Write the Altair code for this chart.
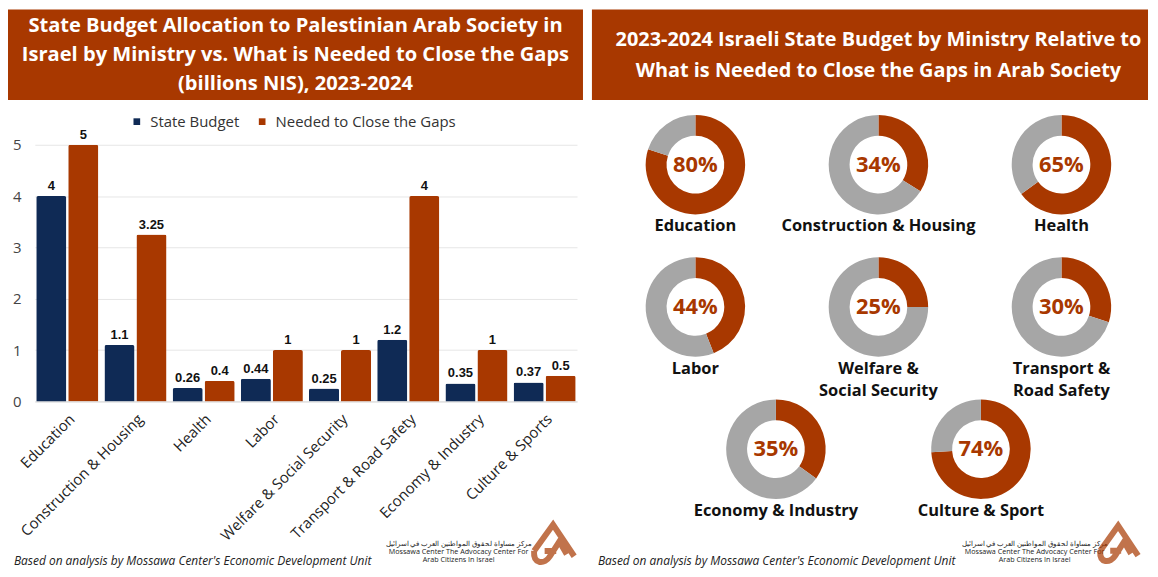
import math
import altair as alt
import pandas as pd

# ---------------- data ----------------
categories = ["Education", "Construction & Housing", "Health", "Labor",
              "Welfare & Social Security", "Transport & Road Safety",
              "Economy & Industry", "Culture & Sports"]
state_budget = [4, 1.1, 0.26, 0.44, 0.25, 1.2, 0.35, 0.37]
needed = [5, 3.25, 0.4, 1, 1, 4, 1, 0.5]
series_names = ["State Budget", "Needed to Close the Gaps"]
y_ticks = [0, 1, 2, 3, 4, 5]

donut_names = ["Education", "Construction & Housing", "Health", "Labor",
               "Welfare &\nSocial Security", "Transport &\nRoad Safety",
               "Economy & Industry", "Culture & Sport"]
donut_pct = [80, 34, 65, 44, 25, 30, 35, 74]

left_title = ("State Budget Allocation to Palestinian Arab Society in\n"
              "Israel by Ministry vs. What is Needed to Close the Gaps\n"
              "(billions NIS), 2023-2024")
right_title = ("2023-2024 Israeli State Budget by Ministry Relative to\n"
               "What is Needed to Close the Gaps in Arab Society")
footer = "Based on analysis by Mossawa Center's Economic Development Unit"
logo_text = ("مركز مساواة لحقوق المواطنين العرب في اسرائيل\n"
             "Mossawa Center The Advocacy Center For\n"
             "Arab Citizens In Israel")

# ---------------- layout (grid slots of the donuts) ----------------
donut_col = [0, 1, 2, 0, 1, 2, 0.44, 1.56]
donut_row = [0, 0, 0, 1, 1, 1, 2, 2]

# ---------------- styles ----------------
RED = "#A83800"
NAVY = "#0F2A55"
GRAY = "#A6A6A6"
FONT = "Open Sans"
LOGO_PATH = ("M-0.95,0.3 L-0.05,-0.95 L0.95,0.55 "
             "M-0.95,0.3 C-1,0.95 -0.45,0.95 -0.2,0.55 L0.25,-0.15 L0.6,0.45 "
             "M-0.45,0.3 L0.1,0.3")

one = pd.DataFrame({"k": [0]})

# ---------------- left panel: grouped bars ----------------
W1, H1 = 545, 258
bars_df = pd.DataFrame({
    "category": categories * 2,
    "series": [series_names[0]] * len(categories) + [series_names[1]] * len(categories),
    "value": state_budget + needed,
})

x_enc = alt.X("category:N", sort=categories, title=None,
              scale=alt.Scale(paddingInner=0.09, paddingOuter=0.02),
              axis=alt.Axis(labelAngle=-45, labelFontSize=15, labelFont=FONT,
                            labelColor="#222", ticks=False, domainColor="#d9d9d9",
                            labelPadding=10, labelLimit=400))
xo_enc = alt.XOffset("series:N", sort=series_names, scale=alt.Scale(paddingInner=0.06))
y_enc = alt.Y("value:Q", title=None, scale=alt.Scale(domain=[0, 5], nice=False),
              axis=alt.Axis(values=y_ticks, format="d", labelFontSize=15, labelFont=FONT,
                            labelColor="#444", ticks=False, domain=False,
                            gridColor="#e6e6e6", labelPadding=14))
color_enc = alt.Color("series:N", sort=series_names,
                      scale=alt.Scale(domain=series_names, range=[NAVY, RED]),
                      legend=alt.Legend(orient="none", legendX=95, legendY=-31,
                                        direction="horizontal", title=None,
                                        symbolType="square", symbolSize=45,
                                        symbolStrokeWidth=0, labelFontSize=15,
                                        labelFont=FONT, labelColor="#333",
                                        labelLimit=400,
                                        columnPadding=15, labelOffset=6, padding=0))

bars = alt.Chart(bars_df).mark_bar(cornerRadiusTopLeft=2, cornerRadiusTopRight=2).encode(
    x=x_enc, xOffset=xo_enc, y=y_enc, color=color_enc)
bar_labels = alt.Chart(bars_df).mark_text(
    baseline="bottom", dy=-3, fontSize=13, fontWeight="bold",
    font="Liberation Sans", color="#111").encode(
    x=x_enc, xOffset=xo_enc, y=y_enc, text=alt.Text("value:Q", format="~g"))

banner_l = alt.Chart(one).mark_rect(color=RED).encode(
    x=alt.value(-27), x2=alt.value(551), y=alt.value(-136), y2=alt.value(-45))
title_l = alt.Chart(one).mark_text(
    lineBreak="\n", align="center", baseline="middle", fontSize=20.2,
    fontWeight="bold", font=FONT, color="white", lineHeight=29).encode(
    x=alt.value(262), y=alt.value(-119), text=alt.value(left_title))
footer_l = alt.Chart(one).mark_text(
    align="left", baseline="middle", fontSize=12, fontStyle="italic",
    font=FONT, color="#222").encode(
    x=alt.value(-21), y=alt.value(418), text=alt.value(footer))
logo_txt_l = alt.Chart(one).mark_text(
    lineBreak="\n", align="center", baseline="middle", fontSize=7.2,
    font=FONT, color="#222", lineHeight=8).encode(
    x=alt.value(426), y=alt.value(401), text=alt.value(logo_text))
logo_l = alt.Chart(one).mark_point(
    shape=LOGO_PATH, size=1800, filled=False, strokeWidth=6, color=RED).encode(
    x=alt.value(522), y=alt.value(402))

left = alt.layer(banner_l, title_l, bars, bar_labels, footer_l, logo_txt_l, logo_l).properties(
    width=W1, height=H1)

# ---------------- right panel: donuts ----------------
W2, H2 = 559, 425
COL0, COL_STEP, ROW0, ROW_STEP = 104, 184, 20, 143
xdom = [(0 - COL0) / COL_STEP, (W2 - COL0) / COL_STEP]
ydom = [(0 - ROW0) / ROW_STEP, (H2 - ROW0) / ROW_STEP]
xs = alt.X("col:Q", axis=None, scale=alt.Scale(domain=xdom, nice=False, zero=False))
ys = alt.Y("row:Q", axis=None, scale=alt.Scale(domain=ydom, nice=False, zero=False, reverse=True))

arc_rows = []
for name, p, c, r in zip(donut_names, donut_pct, donut_col, donut_row):
    arc_rows.append({"name": name, "col": c, "row": r, "seg": "need", "t0": 0.0, "t1": p / 100})
    arc_rows.append({"name": name, "col": c, "row": r, "seg": "rest", "t0": p / 100, "t1": 1.0})
arc_df = pd.DataFrame(arc_rows)
lab_df = pd.DataFrame({"name": donut_names, "col": donut_col, "row": donut_row,
                       "pct": [f"{p}%" for p in donut_pct]})

arcs = alt.Chart(arc_df).mark_arc(radius=50, radius2=29).encode(
    x=xs, y=ys,
    theta=alt.Theta("t0:Q", stack=False,
                    scale=alt.Scale(domain=[0, 1], range=[0, 2 * math.pi])),
    theta2="t1:Q",
    color=alt.Color("seg:N", scale=alt.Scale(domain=["need", "rest"], range=[RED, GRAY]),
                    legend=None))
pct_text = alt.Chart(lab_df).mark_text(
    fontSize=22, fontWeight="bold", font=FONT, color=RED, baseline="middle").encode(
    x=xs, y=ys, text="pct:N")
name_text = alt.Chart(lab_df).mark_text(
    fontSize=16.5, fontWeight="bold", font=FONT, color="#111", baseline="top",
    dy=54, lineBreak="\n", lineHeight=23).encode(
    x=xs, y=ys, text="name:N")

banner_r = alt.Chart(one).mark_rect(color=RED).encode(
    x=alt.value(0), x2=alt.value(W2), y=alt.value(-136), y2=alt.value(-45))
title_r = alt.Chart(one).mark_text(
    lineBreak="\n", align="center", baseline="middle", fontSize=20,
    fontWeight="bold", font=FONT, color="white", lineHeight=31).encode(
    x=alt.value(288), y=alt.value(-105), text=alt.value(right_title))
footer_r = alt.Chart(one).mark_text(
    align="left", baseline="middle", fontSize=12, fontStyle="italic",
    font=FONT, color="#222").encode(
    x=alt.value(6), y=alt.value(418), text=alt.value(footer))
logo_txt_r = alt.Chart(one).mark_text(
    lineBreak="\n", align="center", baseline="middle", fontSize=7.2,
    font=FONT, color="#222", lineHeight=8).encode(
    x=alt.value(445), y=alt.value(401), text=alt.value(logo_text))
logo_r = alt.Chart(one).mark_point(
    shape=LOGO_PATH, size=1600, filled=False, strokeWidth=6, color=RED).encode(
    x=alt.value(530), y=alt.value(402))

right = alt.layer(banner_r, title_r, arcs, pct_text, name_text, footer_r, logo_txt_r, logo_r).properties(
    width=W2, height=H2)

chart = alt.hconcat(left, right, spacing=5, padding=0).resolve_scale(
    color="independent").configure_view(stroke=None)
chart.save("out.html", embed_options={"renderer": "svg", "actions": False})
